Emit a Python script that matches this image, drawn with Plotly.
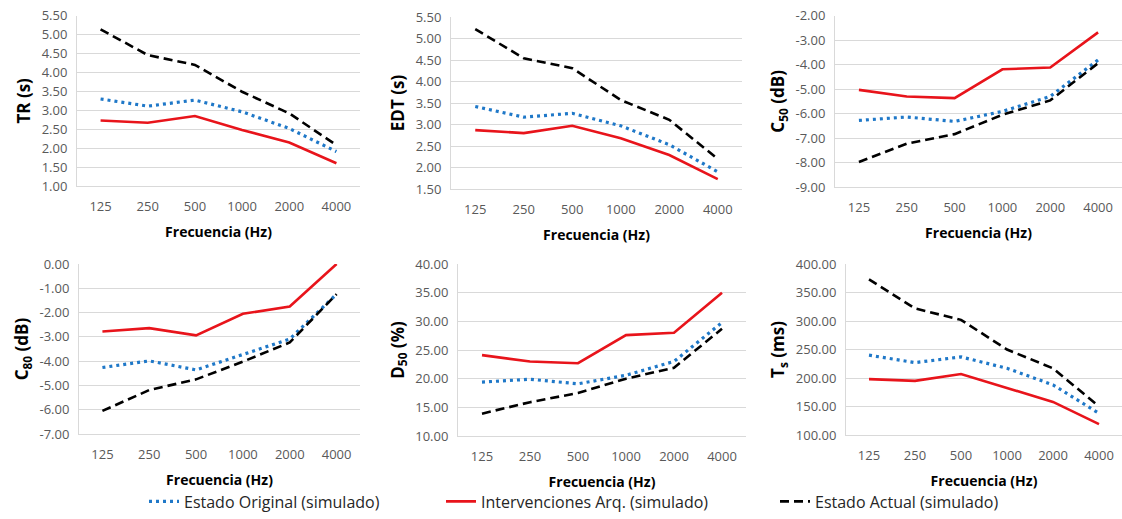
import plotly.graph_objects as go

freqs = ["125", "250", "500", "1000", "2000", "4000"]

tr_orig = [3.30, 3.11, 3.27, 2.96, 2.52, 1.91]
tr_interv = [2.73, 2.67, 2.85, 2.48, 2.15, 1.60]
tr_actual = [5.14, 4.46, 4.20, 3.49, 2.92, 2.08]

edt_orig = [3.42, 3.17, 3.26, 2.97, 2.53, 1.90]
edt_interv = [2.87, 2.80, 2.97, 2.68, 2.29, 1.73]
edt_actual = [5.22, 4.54, 4.31, 3.57, 3.11, 2.20]

c50_orig = [-6.28, -6.14, -6.32, -5.91, -5.30, -3.81]
c50_interv = [-5.03, -5.30, -5.37, -4.19, -4.12, -2.68]
c50_actual = [-7.98, -7.23, -6.84, -6.05, -5.46, -3.94]

c80_orig = [-4.26, -3.99, -4.36, -3.74, -3.09, -1.24]
c80_interv = [-2.78, -2.64, -2.94, -2.05, -1.75, 0.00]
c80_actual = [-6.05, -5.19, -4.75, -4.02, -3.23, -1.24]

d50_orig = [19.4, 19.9, 19.1, 20.6, 23.0, 29.8]
d50_interv = [24.1, 23.0, 22.7, 27.6, 28.0, 35.0]
d50_actual = [13.9, 15.9, 17.5, 20.0, 21.9, 28.7]

ts_orig = [240, 227, 237, 217, 188, 138]
ts_interv = [198, 195, 207, 182, 158, 119]
ts_actual = [373, 322, 302, 250, 217, 150]

# tick values for the negative-valued panels (labels shown with a plain hyphen)
c50_ticks = [-9.0, -8.0, -7.0, -6.0, -5.0, -4.0, -3.0, -2.0]
c80_ticks = [-7.0, -6.0, -5.0, -4.0, -3.0, -2.0, -1.0, 0.0]

series_names = ["Estado Original (simulado)", "Intervenciones Arq. (simulado)", "Estado Actual (simulado)"]

panels = [
    ("TR (s)", tr_orig, tr_interv, tr_actual, [1.0, 5.5], 0.5, None),
    ("EDT (s)", edt_orig, edt_interv, edt_actual, [1.5, 5.5], 0.5, None),
    ("C<sub>50</sub> (dB)", c50_orig, c50_interv, c50_actual, [-9.0, -2.0], 1.0, c50_ticks),
    ("C<sub>80</sub> (dB)", c80_orig, c80_interv, c80_actual, [-7.0, 0.0], 1.0, c80_ticks),
    ("D<sub>50</sub> (%)", d50_orig, d50_interv, d50_actual, [10.0, 40.0], 5.0, None),
    ("T<sub>s</sub> (ms)", ts_orig, ts_interv, ts_actual, [100.0, 400.0], 50.0, None),
]

W, H = 1122, 519
# pixel boxes (left, right, top, bottom)
boxes = [
    (77, 360, 15.7, 186),
    (451, 742, 17, 189),
    (835, 1122, 15.7, 187),
    (79, 360, 264, 434),
    (458, 746, 264, 436),
    (846, 1122, 264, 435),
]

BLUE = "#1f78c8"
RED = "#e8141b"
BLACK = "#000000"
TICK_FONT = dict(family="Open Sans", size=13, color="#595959")
TITLE_FONT = dict(family="Open Sans", size=17, color="#000000")

fig = go.Figure()
layout = {}
for i, (title, o, iv, a, rng, dt, tks) in enumerate(panels):
    n = i + 1
    xa = "x" if n == 1 else f"x{n}"
    ya = "y" if n == 1 else f"y{n}"
    styles = [
        (o, dict(color=BLUE, width=3.2, dash="3px,4px"), "legend"),
        (iv, dict(color=RED, width=2.6), "legend2"),
        (a, dict(color=BLACK, width=2.6, dash="9px,5px"), "legend3"),
    ]
    for k, (vals, line, lg) in enumerate(styles):
        fig.add_trace(go.Scatter(
            x=freqs, y=vals, mode="lines", line=line, name=series_names[k],
            xaxis=xa, yaxis=ya, showlegend=(n == 1), legend=lg,
        ))
    l, r, t, b = boxes[i]
    layout["xaxis" if n == 1 else f"xaxis{n}"] = dict(
        domain=[l / W, r / W], anchor=ya, type="category",
        categoryorder="array", categoryarray=freqs, range=[-0.5, 5.5],
        showgrid=False, showline=True, linecolor="#d9d9d9", linewidth=1,
        ticks="", tickfont=TICK_FONT, ticklabelstandoff=8,
        title=dict(text="<b>Frecuencia (Hz)</b>", font=dict(family="Open Sans", size=14, color="#000"), standoff=13),
        automargin=False, fixedrange=True,
    )
    ydict = dict(
        domain=[1 - b / H, 1 - t / H], anchor=xa, range=rng,
        showgrid=True, gridcolor="#d9d9d9", gridwidth=1,
        zeroline=False, showline=True, linecolor="#d9d9d9", linewidth=1,
        ticks="", tickfont=TICK_FONT, ticklabelstandoff=6,
        title=dict(text=f"<b>{title}</b>", font=TITLE_FONT, standoff=6),
        automargin=False, fixedrange=True,
    )
    if tks is not None:
        ydict.update(tickmode="array", tickvals=tks, ticktext=[f"{v:.2f}" for v in tks])
    else:
        ydict.update(dtick=dt, tick0=rng[0], tickformat=".2f")
    layout["yaxis" if n == 1 else f"yaxis{n}"] = ydict

leg_common = dict(orientation="h", yanchor="bottom", y=0.001, xanchor="left",
                  font=dict(family="Open Sans", size=16, color="#262626"),
                  bgcolor="rgba(0,0,0,0)", borderwidth=0)
layout["legend"] = dict(leg_common, x=144 / W)
layout["legend2"] = dict(leg_common, x=441 / W)
layout["legend3"] = dict(leg_common, x=775 / W)

fig.update_layout(
    width=W, height=H, margin=dict(l=0, r=0, t=0, b=0),
    paper_bgcolor="white", plot_bgcolor="white",
    **layout,
)
fig.write_html("out.html", config={"displayModeBar": False},
               post_script="document.body.style.margin='0';document.body.style.overflow='hidden';")
